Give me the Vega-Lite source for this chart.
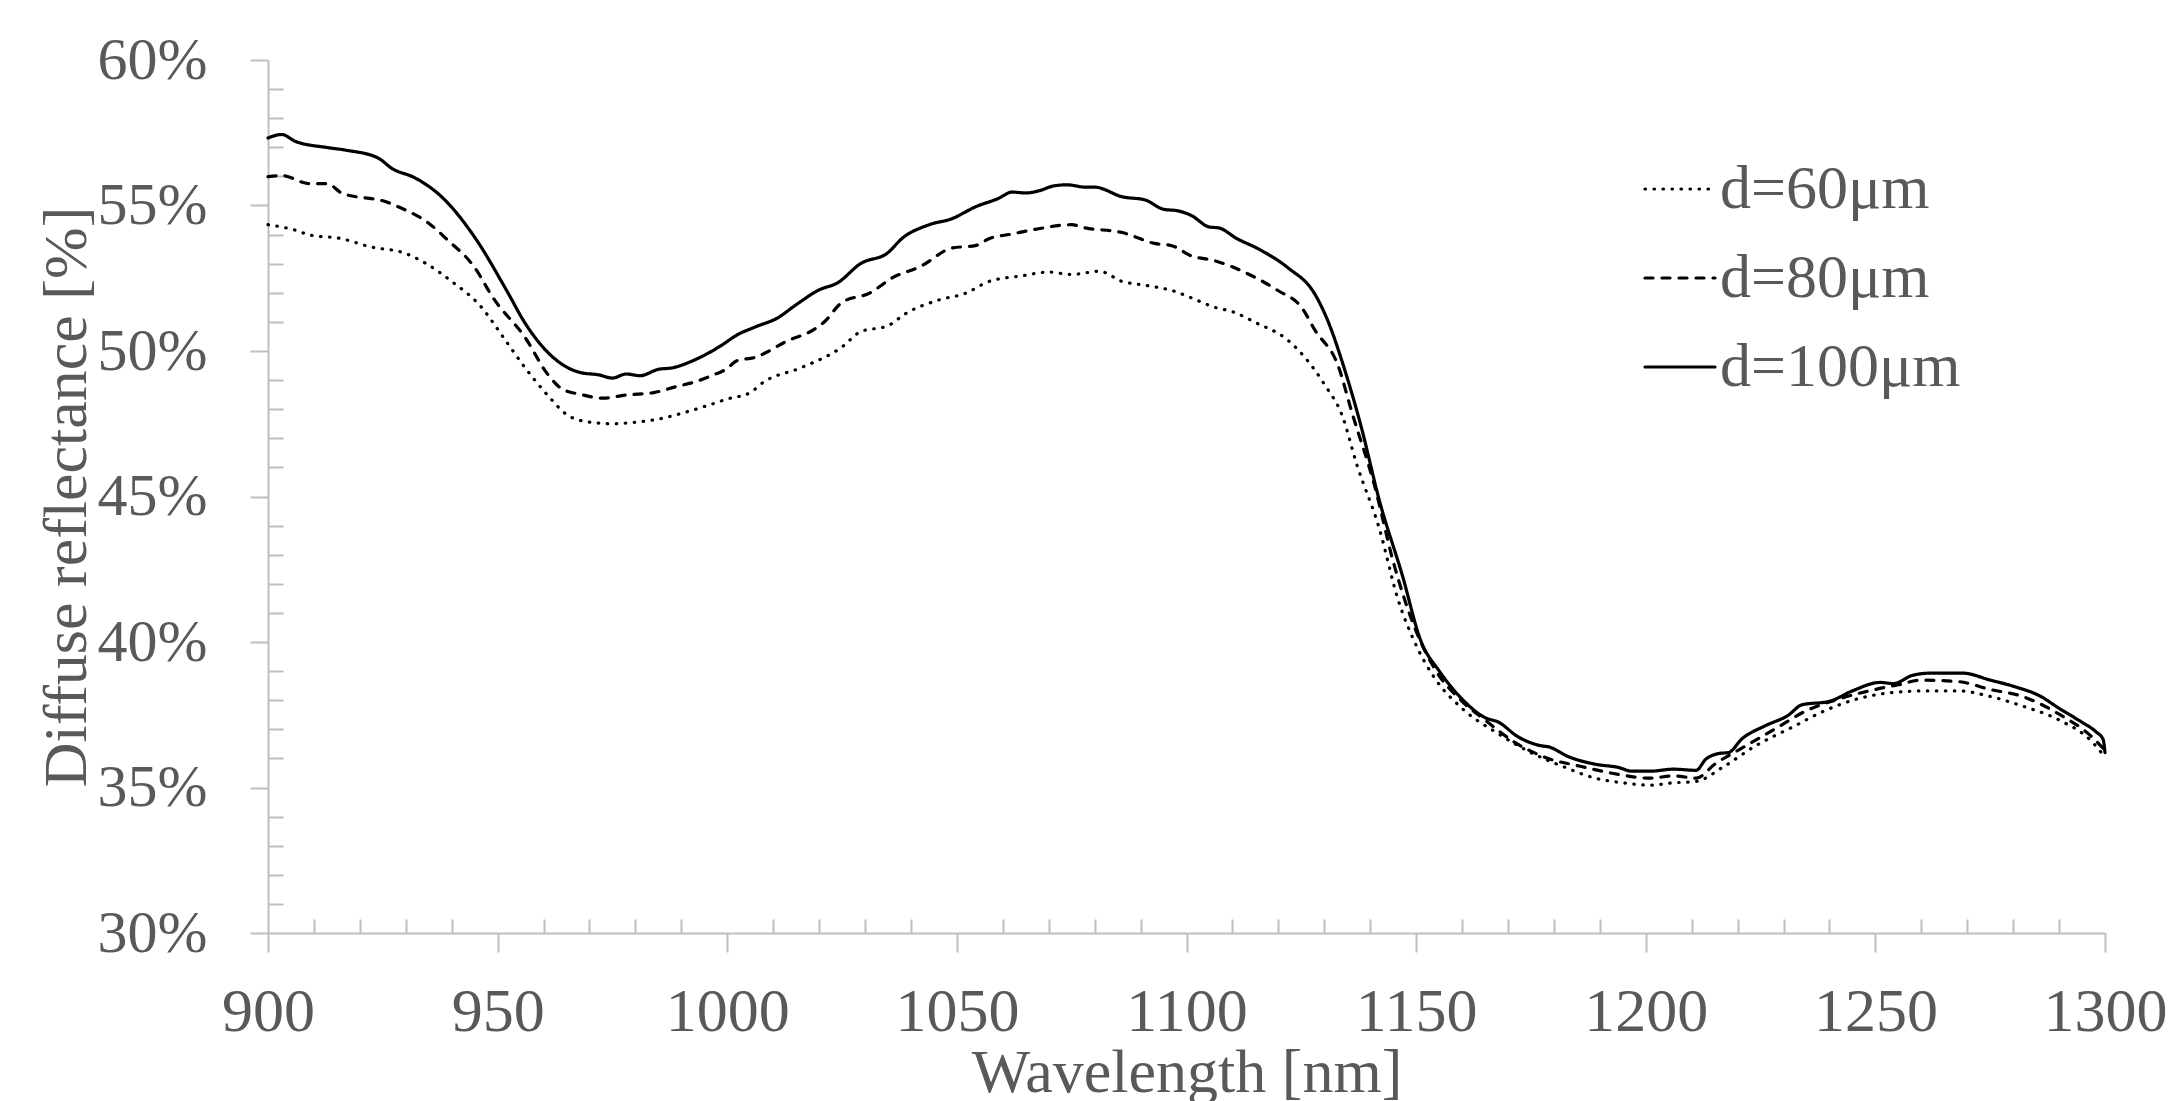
{
  "$schema": "https://vega.github.io/schema/vega-lite/v6.json",
  "autosize": "none",
  "width": 1837,
  "height": 873,
  "padding": {"left": 268, "top": 60, "right": 69, "bottom": 168},
  "background": "white",
  "config": {
    "view": {"stroke": null},
    "font": "Liberation Serif",
    "axis": {"grid": false, "domainColor": "#bfbfbf", "domainWidth": 2, "tickColor": "#bfbfbf", "tickWidth": 2, "labelFont": "Liberation Serif", "labelColor": "#595959", "titleFont": "Liberation Serif", "titleColor": "#595959", "titleFontWeight": "normal", "titleFontSize": 62, "labelOverlap": false, "labelFlush": false}
  },
  "data": {"values": [
    {"w":900,"r":57.32,"d":"d=100μm"},{"w":903,"r":57.44,"d":"d=100μm"},{"w":906,"r":57.2,"d":"d=100μm"},{"w":913,"r":56.99,"d":"d=100μm"},{"w":917,"r":56.9,"d":"d=100μm"},{"w":924,"r":56.63,"d":"d=100μm"},{"w":927,"r":56.27,"d":"d=100μm"},{"w":932,"r":55.95,"d":"d=100μm"},{"w":938,"r":55.27,"d":"d=100μm"},{"w":945,"r":53.91,"d":"d=100μm"},{"w":952,"r":52.07,"d":"d=100μm"},{"w":956,"r":50.95,"d":"d=100μm"},{"w":963,"r":49.66,"d":"d=100μm"},{"w":968,"r":49.26,"d":"d=100μm"},{"w":972,"r":49.18,"d":"d=100μm"},{"w":975,"r":49.07,"d":"d=100μm"},{"w":978,"r":49.21,"d":"d=100μm"},{"w":981,"r":49.15,"d":"d=100μm"},{"w":985,"r":49.37,"d":"d=100μm"},{"w":988,"r":49.42,"d":"d=100μm"},{"w":993,"r":49.7,"d":"d=100μm"},{"w":999,"r":50.22,"d":"d=100μm"},{"w":1002,"r":50.54,"d":"d=100μm"},{"w":1006,"r":50.82,"d":"d=100μm"},{"w":1011,"r":51.14,"d":"d=100μm"},{"w":1015,"r":51.59,"d":"d=100μm"},{"w":1020,"r":52.1,"d":"d=100μm"},{"w":1024,"r":52.34,"d":"d=100μm"},{"w":1029,"r":53.0,"d":"d=100μm"},{"w":1035,"r":53.38,"d":"d=100μm"},{"w":1038,"r":53.86,"d":"d=100μm"},{"w":1044,"r":54.34,"d":"d=100μm"},{"w":1049,"r":54.55,"d":"d=100μm"},{"w":1054,"r":54.95,"d":"d=100μm"},{"w":1059,"r":55.24,"d":"d=100μm"},{"w":1062,"r":55.46,"d":"d=100μm"},{"w":1065,"r":55.43,"d":"d=100μm"},{"w":1068,"r":55.51,"d":"d=100μm"},{"w":1071,"r":55.67,"d":"d=100μm"},{"w":1074,"r":55.71,"d":"d=100μm"},{"w":1078,"r":55.63,"d":"d=100μm"},{"w":1080,"r":55.63,"d":"d=100μm"},{"w":1086,"r":55.3,"d":"d=100μm"},{"w":1091,"r":55.19,"d":"d=100μm"},{"w":1095,"r":54.87,"d":"d=100μm"},{"w":1098,"r":54.82,"d":"d=100μm"},{"w":1101,"r":54.66,"d":"d=100μm"},{"w":1105,"r":54.26,"d":"d=100μm"},{"w":1107,"r":54.23,"d":"d=100μm"},{"w":1111,"r":53.86,"d":"d=100μm"},{"w":1116,"r":53.48,"d":"d=100μm"},{"w":1122,"r":52.87,"d":"d=100μm"},{"w":1128,"r":51.94,"d":"d=100μm"},{"w":1131,"r":50.95,"d":"d=100μm"},{"w":1134,"r":49.58,"d":"d=100μm"},{"w":1138,"r":47.42,"d":"d=100μm"},{"w":1142,"r":44.86,"d":"d=100μm"},{"w":1147,"r":42.29,"d":"d=100μm"},{"w":1151,"r":40.05,"d":"d=100μm"},{"w":1155,"r":39.01,"d":"d=100μm"},{"w":1160,"r":38.04,"d":"d=100μm"},{"w":1165,"r":37.4,"d":"d=100μm"},{"w":1168,"r":37.24,"d":"d=100μm"},{"w":1172,"r":36.76,"d":"d=100μm"},{"w":1177,"r":36.44,"d":"d=100μm"},{"w":1179,"r":36.39,"d":"d=100μm"},{"w":1183,"r":36.07,"d":"d=100μm"},{"w":1189,"r":35.8,"d":"d=100μm"},{"w":1194,"r":35.69,"d":"d=100μm"},{"w":1197,"r":35.56,"d":"d=100μm"},{"w":1201,"r":35.56,"d":"d=100μm"},{"w":1206,"r":35.63,"d":"d=100μm"},{"w":1211,"r":35.59,"d":"d=100μm"},{"w":1213,"r":35.96,"d":"d=100μm"},{"w":1216,"r":36.17,"d":"d=100μm"},{"w":1218,"r":36.2,"d":"d=100μm"},{"w":1221,"r":36.68,"d":"d=100μm"},{"w":1226,"r":37.12,"d":"d=100μm"},{"w":1231,"r":37.48,"d":"d=100μm"},{"w":1234,"r":37.84,"d":"d=100μm"},{"w":1240,"r":37.96,"d":"d=100μm"},{"w":1245,"r":38.32,"d":"d=100μm"},{"w":1251,"r":38.61,"d":"d=100μm"},{"w":1254,"r":38.57,"d":"d=100μm"},{"w":1258,"r":38.85,"d":"d=100μm"},{"w":1262,"r":38.93,"d":"d=100μm"},{"w":1269,"r":38.93,"d":"d=100μm"},{"w":1275,"r":38.69,"d":"d=100μm"},{"w":1280,"r":38.48,"d":"d=100μm"},{"w":1286,"r":38.13,"d":"d=100μm"},{"w":1290,"r":37.72,"d":"d=100μm"},{"w":1295,"r":37.24,"d":"d=100μm"},{"w":1298,"r":36.92,"d":"d=100μm"},{"w":1299.6,"r":36.65,"d":"d=100μm"},{"w":1300,"r":36.2,"d":"d=100μm"},

    {"w":900,"r":55.99,"d":"d=80μm"},{"w":903,"r":56.03,"d":"d=80μm"},{"w":909,"r":55.75,"d":"d=80μm"},{"w":913,"r":55.75,"d":"d=80μm"},{"w":916,"r":55.43,"d":"d=80μm"},{"w":926,"r":55.11,"d":"d=80μm"},{"w":928,"r":54.98,"d":"d=80μm"},{"w":935,"r":54.39,"d":"d=80μm"},{"w":939,"r":53.83,"d":"d=80μm"},{"w":945,"r":52.87,"d":"d=80μm"},{"w":949,"r":51.83,"d":"d=80μm"},{"w":956,"r":50.46,"d":"d=80μm"},{"w":961,"r":49.18,"d":"d=80μm"},{"w":964,"r":48.7,"d":"d=80μm"},{"w":968,"r":48.51,"d":"d=80μm"},{"w":973,"r":48.38,"d":"d=80μm"},{"w":978,"r":48.49,"d":"d=80μm"},{"w":984,"r":48.57,"d":"d=80μm"},{"w":989,"r":48.78,"d":"d=80μm"},{"w":993,"r":48.94,"d":"d=80μm"},{"w":997,"r":49.18,"d":"d=80μm"},{"w":1000,"r":49.4,"d":"d=80μm"},{"w":1002,"r":49.66,"d":"d=80μm"},{"w":1006,"r":49.78,"d":"d=80μm"},{"w":1013,"r":50.34,"d":"d=80μm"},{"w":1019,"r":50.75,"d":"d=80μm"},{"w":1021,"r":50.98,"d":"d=80μm"},{"w":1025,"r":51.67,"d":"d=80μm"},{"w":1031,"r":51.99,"d":"d=80μm"},{"w":1036,"r":52.52,"d":"d=80μm"},{"w":1042,"r":52.9,"d":"d=80μm"},{"w":1049,"r":53.54,"d":"d=80μm"},{"w":1054,"r":53.62,"d":"d=80μm"},{"w":1057,"r":53.86,"d":"d=80μm"},{"w":1062,"r":54.02,"d":"d=80μm"},{"w":1067,"r":54.18,"d":"d=80μm"},{"w":1075,"r":54.34,"d":"d=80μm"},{"w":1078,"r":54.23,"d":"d=80μm"},{"w":1086,"r":54.07,"d":"d=80μm"},{"w":1093,"r":53.7,"d":"d=80μm"},{"w":1097,"r":53.61,"d":"d=80μm"},{"w":1101,"r":53.27,"d":"d=80μm"},{"w":1106,"r":53.11,"d":"d=80μm"},{"w":1113,"r":52.68,"d":"d=80μm"},{"w":1120,"r":52.07,"d":"d=80μm"},{"w":1125,"r":51.51,"d":"d=80μm"},{"w":1128,"r":50.71,"d":"d=80μm"},{"w":1133,"r":49.5,"d":"d=80μm"},{"w":1136,"r":47.9,"d":"d=80μm"},{"w":1141,"r":45.34,"d":"d=80μm"},{"w":1145,"r":42.77,"d":"d=80μm"},{"w":1150,"r":40.37,"d":"d=80μm"},{"w":1154,"r":39.09,"d":"d=80μm"},{"w":1160,"r":37.96,"d":"d=80μm"},{"w":1165,"r":37.32,"d":"d=80μm"},{"w":1171,"r":36.6,"d":"d=80μm"},{"w":1178,"r":36.04,"d":"d=80μm"},{"w":1186,"r":35.72,"d":"d=80μm"},{"w":1193,"r":35.48,"d":"d=80μm"},{"w":1201,"r":35.32,"d":"d=80μm"},{"w":1206,"r":35.4,"d":"d=80μm"},{"w":1211,"r":35.32,"d":"d=80μm"},{"w":1215,"r":35.8,"d":"d=80μm"},{"w":1221,"r":36.36,"d":"d=80μm"},{"w":1228,"r":37.0,"d":"d=80μm"},{"w":1235,"r":37.64,"d":"d=80μm"},{"w":1242,"r":38.04,"d":"d=80μm"},{"w":1250,"r":38.37,"d":"d=80μm"},{"w":1255,"r":38.53,"d":"d=80μm"},{"w":1260,"r":38.69,"d":"d=80μm"},{"w":1268,"r":38.64,"d":"d=80μm"},{"w":1275,"r":38.37,"d":"d=80μm"},{"w":1282,"r":38.13,"d":"d=80μm"},{"w":1290,"r":37.52,"d":"d=80μm"},{"w":1297,"r":36.76,"d":"d=80μm"},{"w":1300,"r":36.28,"d":"d=80μm"},

    {"w":900,"r":54.34,"d":"d=60μm"},{"w":906,"r":54.15,"d":"d=60μm"},{"w":909,"r":53.99,"d":"d=60μm"},{"w":916,"r":53.86,"d":"d=60μm"},{"w":922,"r":53.59,"d":"d=60μm"},{"w":930,"r":53.35,"d":"d=60μm"},{"w":935,"r":52.95,"d":"d=60μm"},{"w":940,"r":52.39,"d":"d=60μm"},{"w":946,"r":51.59,"d":"d=60μm"},{"w":952,"r":50.3,"d":"d=60μm"},{"w":956,"r":49.42,"d":"d=60μm"},{"w":961,"r":48.46,"d":"d=60μm"},{"w":965,"r":47.82,"d":"d=60μm"},{"w":969,"r":47.58,"d":"d=60μm"},{"w":975,"r":47.5,"d":"d=60μm"},{"w":980,"r":47.55,"d":"d=60μm"},{"w":985,"r":47.66,"d":"d=60μm"},{"w":991,"r":47.9,"d":"d=60μm"},{"w":996,"r":48.14,"d":"d=60μm"},{"w":1000,"r":48.35,"d":"d=60μm"},{"w":1005,"r":48.57,"d":"d=60μm"},{"w":1008,"r":48.94,"d":"d=60μm"},{"w":1016,"r":49.42,"d":"d=60μm"},{"w":1025,"r":50.14,"d":"d=60μm"},{"w":1029,"r":50.66,"d":"d=60μm"},{"w":1035,"r":50.87,"d":"d=60μm"},{"w":1039,"r":51.3,"d":"d=60μm"},{"w":1046,"r":51.75,"d":"d=60μm"},{"w":1052,"r":51.99,"d":"d=60μm"},{"w":1057,"r":52.39,"d":"d=60μm"},{"w":1064,"r":52.58,"d":"d=60μm"},{"w":1070,"r":52.71,"d":"d=60μm"},{"w":1075,"r":52.63,"d":"d=60μm"},{"w":1081,"r":52.74,"d":"d=60μm"},{"w":1086,"r":52.39,"d":"d=60μm"},{"w":1091,"r":52.26,"d":"d=60μm"},{"w":1097,"r":52.07,"d":"d=60μm"},{"w":1101,"r":51.83,"d":"d=60μm"},{"w":1106,"r":51.51,"d":"d=60μm"},{"w":1110,"r":51.35,"d":"d=60μm"},{"w":1115,"r":50.98,"d":"d=60μm"},{"w":1122,"r":50.38,"d":"d=60μm"},{"w":1126,"r":49.74,"d":"d=60μm"},{"w":1130,"r":48.86,"d":"d=60μm"},{"w":1134,"r":47.74,"d":"d=60μm"},{"w":1137,"r":46.14,"d":"d=60μm"},{"w":1142,"r":43.89,"d":"d=60μm"},{"w":1146,"r":41.49,"d":"d=60μm"},{"w":1150,"r":39.89,"d":"d=60μm"},{"w":1154,"r":38.77,"d":"d=60μm"},{"w":1160,"r":37.72,"d":"d=60μm"},{"w":1168,"r":36.84,"d":"d=60μm"},{"w":1175,"r":36.2,"d":"d=60μm"},{"w":1182,"r":35.72,"d":"d=60μm"},{"w":1189,"r":35.32,"d":"d=60μm"},{"w":1195,"r":35.16,"d":"d=60μm"},{"w":1201,"r":35.08,"d":"d=60μm"},{"w":1206,"r":35.16,"d":"d=60μm"},{"w":1211,"r":35.21,"d":"d=60μm"},{"w":1217,"r":35.72,"d":"d=60μm"},{"w":1224,"r":36.44,"d":"d=60μm"},{"w":1232,"r":37.08,"d":"d=60μm"},{"w":1239,"r":37.64,"d":"d=60μm"},{"w":1246,"r":38.04,"d":"d=60μm"},{"w":1253,"r":38.25,"d":"d=60μm"},{"w":1261,"r":38.32,"d":"d=60μm"},{"w":1268,"r":38.32,"d":"d=60μm"},{"w":1275,"r":38.13,"d":"d=60μm"},{"w":1282,"r":37.8,"d":"d=60μm"},{"w":1290,"r":37.32,"d":"d=60μm"},{"w":1297,"r":36.6,"d":"d=60μm"},{"w":1300,"r":36.04,"d":"d=60μm"}
  ]},
  "mark": {"type": "line", "color": "black", "strokeWidth": 3.2, "strokeCap": "round", "interpolate": "monotone"},
  "encoding": {
    "x": {
      "field": "w", "type": "quantitative",
      "scale": {"domain": [900, 1300], "nice": false, "zero": false},
      "axis": {
        "title": "Wavelength [nm]",
        "values": [900,910,920,930,940,950,960,970,980,990,1000,1010,1020,1030,1040,1050,1060,1070,1080,1090,1100,1110,1120,1130,1140,1150,1160,1170,1180,1190,1200,1210,1220,1230,1240,1250,1260,1270,1280,1290,1300],
        "format": "d",
        "labelExpr": "datum.value % 50 === 0 ? datum.label : ''",
        "labelFontSize": 62,
        "tickSize": {"condition": {"test": "datum.value % 50 === 0", "value": 19}, "value": -14},
        "labelPadding": 29,
        "titleY": 109,
        "titleBaseline": "top"
      }
    },
    "y": {
      "field": "r", "type": "quantitative",
      "scale": {"domain": [30, 60], "nice": false, "zero": false},
      "axis": {
        "title": "Diffuse reflectance [%]",
        "values": [30,31,32,33,34,35,36,37,38,39,40,41,42,43,44,45,46,47,48,49,50,51,52,53,54,55,56,57,58,59,60],
        "labelExpr": "datum.value % 5 === 0 ? datum.value + '%' : ''",
        "labelFontSize": 60,
        "tickSize": {"condition": {"test": "datum.value % 5 === 0", "value": 18}, "value": -15},
        "labelPadding": 43,
        "titleX": -183,
        "titleBaseline": "alphabetic"
      }
    },
    "strokeDash": {
      "field": "d", "type": "nominal",
      "scale": {"domain": ["d=60μm", "d=80μm", "d=100μm"], "range": [[0.5, 8.5], [8, 9], [1, 0]]},
      "legend": {
        "title": null, "orient": "none", "legendX": 1375, "legendY": 92, "padding": 0,
        "symbolType": "stroke", "symbolSize": 4900, "symbolStrokeWidth": 3.2, "symbolStrokeColor": "black",
        "labelFont": "Liberation Serif", "labelFontSize": 62, "labelColor": "#595959", "labelOffset": 3, "labelLimit": 0, "rowPadding": 21,
        "encode": {"symbols": {"update": {"strokeCap": {"value": "round"}}}}
      }
    }
  }
}
